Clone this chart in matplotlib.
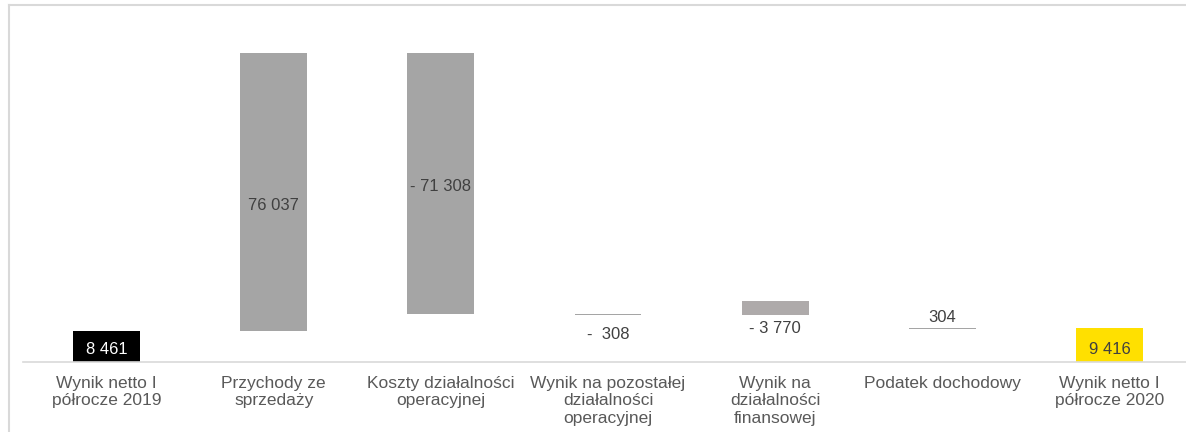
import matplotlib.pyplot as plt
from matplotlib.lines import Line2D

plt.rcParams["font.family"] = ["Liberation Sans", "DejaVu Sans"]

categories = [
    "Wynik netto I\npółrocze 2019",
    "Przychody ze\nsprzedaży",
    "Koszty działalności\noperacyjnej",
    "Wynik na pozostałej\ndziałalności\noperacyjnej",
    "Wynik na\ndziałalności\nfinansowej",
    "Podatek dochodowy",
    "Wynik netto I\npółrocze 2020",
]
values = [8461, 76037, -71308, -308, -3770, 304, 9416]
labels = ["8 461", "76 037", "- 71 308", "-  308", "- 3 770", "304", "9 416"]
# bar bottoms as drawn in the original (the -3 770 bar is drawn upward there)
bottoms = [0, 8461, 13190, 12882, 12882, 9112, 0]
heights = [8461, 76037, 71308, 308, 3770, 304, 9416]
colors = ["#000000", "#A5A5A5", "#A5A5A5", "#A5A5A5", "#AEAAAA", "#A5A5A5", "#FFE000"]
label_colors = ["white", "#404040", "#404040", "#404040", "#404040", "#404040", "#404040"]

W, H = 1186, 432
fig = plt.figure(figsize=(W / 100, H / 100), dpi=100)
# axes: x from 23 px to 1193 px, y from 362 px (zero) to 5 px
ax = fig.add_axes([23 / W, (H - 362) / H, 1170 / W, 357 / H])

x = list(range(len(categories)))
ax.bar(x, heights, bottom=bottoms, width=0.4, color=colors, edgecolor="none")
ax.set_xlim(-0.5, 6.5)
ax.set_ylim(0, 97650)

# label placement (pixel offsets tuned by eye)
for i in x:
    mid = bottoms[i] + heights[i] / 2
    if i in (3, 4):
        ypos, va, dy = bottoms[i], "top", -12 if i == 3 else -6
    elif i == 5:
        ypos, va, dy = bottoms[i] + heights[i], "bottom", 3
    else:
        ypos, va = mid, "center"
        dy = {0: -3, 1: -13, 2: -3, 6: -5}[i]
    ax.annotate(labels[i], (i, ypos), xytext=(0, dy), textcoords="offset pixels",
                ha="center", va=va, fontsize=12, color=label_colors[i])

for s in ["top", "right", "left"]:
    ax.spines[s].set_visible(False)
ax.spines["bottom"].set_color("#D9D9D9")
ax.spines["bottom"].set_linewidth(1.2)
ax.set_yticks([])
ax.set_xticks(x)
ax.set_xticklabels(categories, fontsize=12.5, color="#595959", linespacing=1.2, va="top")
ax.tick_params(axis="x", length=0, pad=10)

# light frame on top and left edge
fig.add_artist(Line2D([9 / W, 1.01], [1 - 5 / H, 1 - 5 / H], color="#D9D9D9", lw=1.5))
fig.add_artist(Line2D([9 / W, 9 / W], [0, 1 - 5 / H], color="#D9D9D9", lw=1.5))

fig.savefig("out.png", dpi=100)
